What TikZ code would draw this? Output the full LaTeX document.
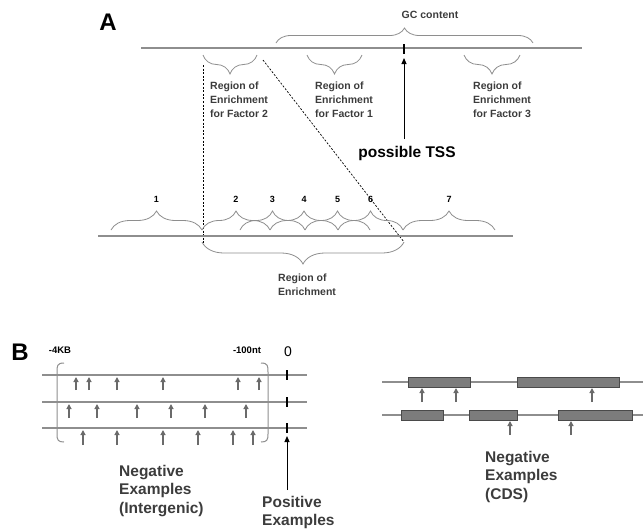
\documentclass[tikz,border=0pt]{standalone}
\usepackage{fontspec}
\setmainfont{Liberation Sans}
\usepackage{xcolor}
\usetikzlibrary{arrows.meta,positioning,decorations.pathreplacing,calc}
\definecolor{seqgray}{HTML}{8E8E8E}
\definecolor{markgray}{HTML}{6A6A6A}
\definecolor{exonfill}{HTML}{7C7C7C}
\definecolor{exonedge}{HTML}{4A4A4A}
\definecolor{textgray}{HTML}{3C3C3C}

\begin{document}
\begin{tikzpicture}[x=1pt,y=-1pt, every node/.style={font=\bfseries\fontsize{10.5}{14}\selectfont,inner sep=0pt,text=textgray}]
    \tikzstyle{seq}=[seqgray,line width=1.1pt]
    \tikzstyle{brc}=[seqgray,line width=0.8pt,decorate,decoration={brace,amplitude=19pt}]
    \tikzstyle{guide}=[black,line width=0.7pt,dash pattern=on 2pt off 1.6pt]
    \tikzstyle{tick}=[black,line width=2.4pt]
    \tikzstyle{panel}=[font=\bfseries\fontsize{24}{24}\selectfont,text=black]
    \tikzstyle{region}=[anchor=north west,align=left]
    \tikzstyle{big}=[anchor=north west,align=left,font=\bfseries\fontsize{15.5}{18.5}\selectfont]
    \tikzstyle{num}=[font=\bfseries\fontsize{9}{9}\selectfont,text=black]
    \tikzstyle{site}=[markgray,line width=1.2pt,-{Triangle[length=5pt,width=5pt]}]
    \tikzstyle{exon}=[fill=exonfill,draw=exonedge,line width=0.8pt]
    \useasboundingbox (0,0) rectangle (643,531);

    % ---- A
    \node[panel] (labA) at (108,22) {A};
    \coordinate (topL) at (141,48);
    \coordinate (topR) at (582,48);
    \draw[seq] (topL) -- (topR);
    \draw[brc,decoration={amplitude=15pt}] (276,43) -- (533,43);
    \node (gc) at (430,15) {GC content};
    \coordinate (tss) at (404,49);
    \draw[tick] ($(tss)+(0,-5)$) -- ($(tss)+(0,5)$);
    \node[font=\bfseries\fontsize{15.5}{15.5}\selectfont,text=black] (tsslbl) at (407,153) {possible TSS};
    \coordinate (tssfoot) at (404,139);
    \draw[black,line width=1pt,-{Triangle[length=6pt,width=5pt]}] (tssfoot) -- ($(tss)+(0,9)$);
    % factor regions
    \draw[brc] (257,55) -- (203,55);
    \draw[brc] (362,55) -- (307,55);
    \draw[brc] (520,55) -- (464,55);
    \node[region] (f2) at (210,82) {Region of\\Enrichment\\for Factor 2};
    \node[region] (f1) at (315,82) {Region of\\Enrichment\\for Factor 1};
    \node[region] (f3) at (473,82) {Region of\\Enrichment\\for Factor 3};
    % zoom
    \coordinate (zoomA) at (203,65);
    \coordinate (zoomB) at (263,60);
    \coordinate (zoomC) at (203,243);
    \coordinate (zoomD) at (404,242);
    \draw[guide] (zoomA) -- (zoomC);
    \draw[guide] (zoomB) -- (zoomD);
    \coordinate (botL) at (98,236);
    \coordinate (botR) at (513,236);
    \draw[seq] (botL) -- (botR);
    \foreach \a/\b/\n in {111/202/1,202/270/2,240/305/3,270/338/4,305/370/5,338/403/6,403/495/7}{
        \draw[brc] (\a,230) -- (\b,230);
        \node[num] (w\n) at ({(\a+\b)/2},199) {\n};
    }
    \draw[brc,decoration={amplitude=22pt}] (404,242) -- (202,242);
    \node[region] (roe) at (278,274) {Region of\\Enrichment};

    % ---- B
    \node[panel] (labB) at (20,352) {B};
    \node[font=\bfseries\fontsize{9.5}{9.5}\selectfont,text=black] (kb) at (60,350) {-4KB};
    \node[font=\bfseries\fontsize{9.5}{9.5}\selectfont,text=black] (nt) at (247,350) {-100nt};
    \node[font=\fontsize{14}{14}\selectfont,text=black] (zero) at (288,352) {0};
    \foreach \y/\n in {375/1,402/2,428/3}{
        \draw[seq] (42,\y) -- (307,\y);
        \coordinate (pos\n) at (287,\y);
        \draw[tick,line width=2.6pt] ($(pos\n)+(0,-5)$) -- ($(pos\n)+(0,5)$);
    }
    \draw[seqgray,line width=1pt] (64,363) .. controls (57,363) and (57,366) .. (57,372) -- (57,434) .. controls (57,440) and (58,442) .. (64,442);
    \draw[seqgray,line width=1pt] (261,363) .. controls (268,363) and (268,366) .. (268,372) -- (268,434) .. controls (268,440) and (267,442) .. (261,442);
    \foreach \x in {76,89,117,163,238,259} \draw[site] (\x,390) -- (\x,377);
    \foreach \x in {69,97,137,171,205,246} \draw[site] (\x,418) -- (\x,404);
    \foreach \x in {83,117,163,198,233,253} \draw[site] (\x,445) -- (\x,430);
    \node[big] (negI) at (119,465) {Negative\\Examples\\(Intergenic)};
    \coordinate (posfoot) at (287,490);
    \draw[black,line width=1pt,-{Triangle[length=6pt,width=5pt]}] (posfoot) -- ($(pos3)+(0,8)$);
    \node[big] (posE) at (262,496) {Positive\\Examples};
    % CDS
    \draw[seq] (382,382) -- (643,382);
    \draw[seq] (382,415) -- (643,415);
    \draw[exon] (408,377) rectangle (470,387);
    \draw[exon] (517,377) rectangle (619,387);
    \draw[exon] (401,410) rectangle (443,420);
    \draw[exon] (469,410) rectangle (517,420);
    \draw[exon] (558,410) rectangle (632,420);
    \foreach \x in {422,456,592} \draw[site] (\x,402) -- (\x,388);
    \foreach \x in {510,571} \draw[site] (\x,435) -- (\x,421);
    \node[big] (negC) at (485,451) {Negative\\Examples\\(CDS)};
\end{tikzpicture}
\end{document}
